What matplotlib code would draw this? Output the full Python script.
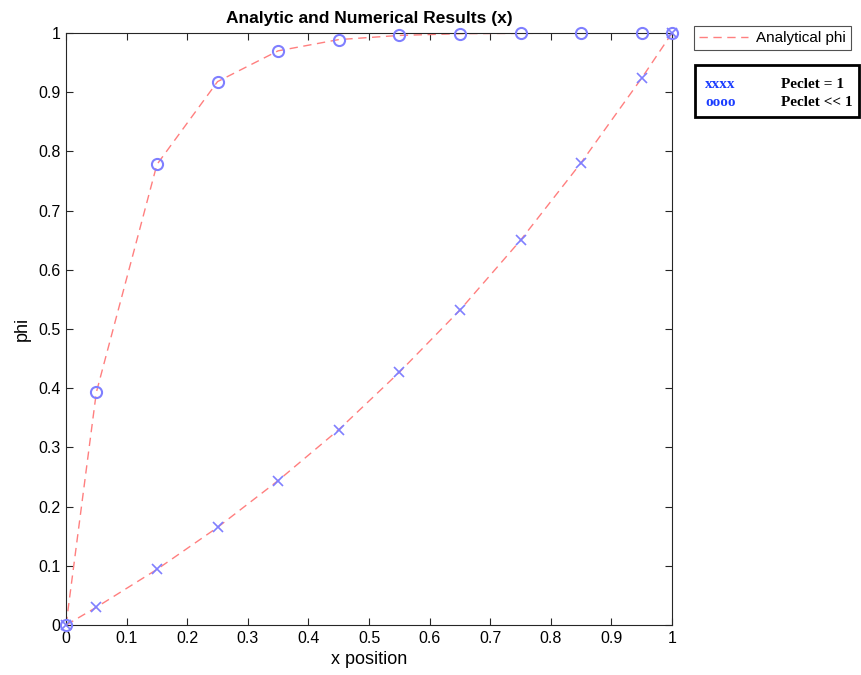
import numpy as np
import matplotlib.pyplot as plt

plt.rcParams['font.family'] = ['Liberation Sans', 'DejaVu Sans']

x_nodes = [0, 0.05, 0.15, 0.25, 0.35, 0.45, 0.55, 0.65, 0.75, 0.85, 0.95, 1.0]
phi_pe1 = [0, 0.030, 0.094, 0.165, 0.244, 0.330, 0.427, 0.532, 0.650, 0.781, 0.924, 1.0]
phi_pe_small = [0, 0.393, 0.778, 0.918, 0.970, 0.989, 0.996, 0.999, 0.9995, 0.9998, 1.0, 1.0]

fig = plt.figure(figsize=(8.62, 6.75), dpi=100)
ax = fig.add_axes([0.0766, 0.074, 0.703, 0.877])

red = '#ff7f7f'
blue = '#7f7fff'
la, = ax.plot(x_nodes, phi_pe1, '--', color=red, lw=1.0, dashes=(6, 4))
ax.plot(x_nodes, phi_pe_small, '--', color=red, lw=1.0, dashes=(6, 4))
ax.plot(x_nodes, phi_pe1, 'x', color=blue, ms=7, mew=1.2, ls='none', clip_on=False, zorder=3)
ax.plot(x_nodes, phi_pe_small, 'o', color=blue, ms=8, mfc='none', mew=1.5, ls='none',
        clip_on=False, zorder=3)

ax.set_xlim(0, 1)
ax.set_ylim(0, 1)
ax.set_xticks(np.arange(0, 1.01, 0.1))
ax.set_yticks(np.arange(0, 1.01, 0.1))
ax.set_xticklabels(['0', '0.1', '0.2', '0.3', '0.4', '0.5', '0.6', '0.7', '0.8', '0.9', '1'])
ax.set_yticklabels(['0', '0.1', '0.2', '0.3', '0.4', '0.5', '0.6', '0.7', '0.8', '0.9', '1'])
ax.tick_params(direction='in', top=True, right=True, labelsize=11.5, length=5, width=0.8,
               color='#262626', pad=4)
for s in ax.spines.values():
    s.set_color('#262626')
    s.set_linewidth(0.8)
ax.set_xlabel('x position', fontsize=13, labelpad=4)
ax.set_ylabel('phi', fontsize=13, labelpad=5)
ax.set_title('Analytic and Numerical Results (x)', fontsize=12.5, fontweight='bold', pad=7)

leg = fig.legend([la], ['Analytical phi'], loc='upper left', bbox_to_anchor=(0.805, 0.962),
                 fontsize=11, frameon=True, fancybox=False, handlelength=3.2,
                 borderpad=0.35, handletextpad=0.5, borderaxespad=0)
leg.get_frame().set_edgecolor('#262626')
leg.get_frame().set_linewidth(0.8)

# annotation box
fig.patches.append(plt.Rectangle((0.806, 0.826), 0.191, 0.077, transform=fig.transFigure,
                                 fill=False, edgecolor='black', lw=2))
fig.text(0.818, 0.875, 'xxxx', color='#1a3cff', family='Liberation Serif', fontweight='bold',
         fontsize=11, va='center')
fig.text(0.818, 0.848, 'oooo', color='#1a3cff', family='Liberation Serif', fontweight='bold',
         fontsize=11, va='center')
fig.text(0.906, 0.875, 'Peclet = 1', color='black', family='Liberation Serif', fontweight='bold',
         fontsize=11, va='center')
fig.text(0.906, 0.848, 'Peclet << 1', color='black', family='Liberation Serif', fontweight='bold',
         fontsize=11, va='center')

fig.savefig('out.png', dpi=100)
